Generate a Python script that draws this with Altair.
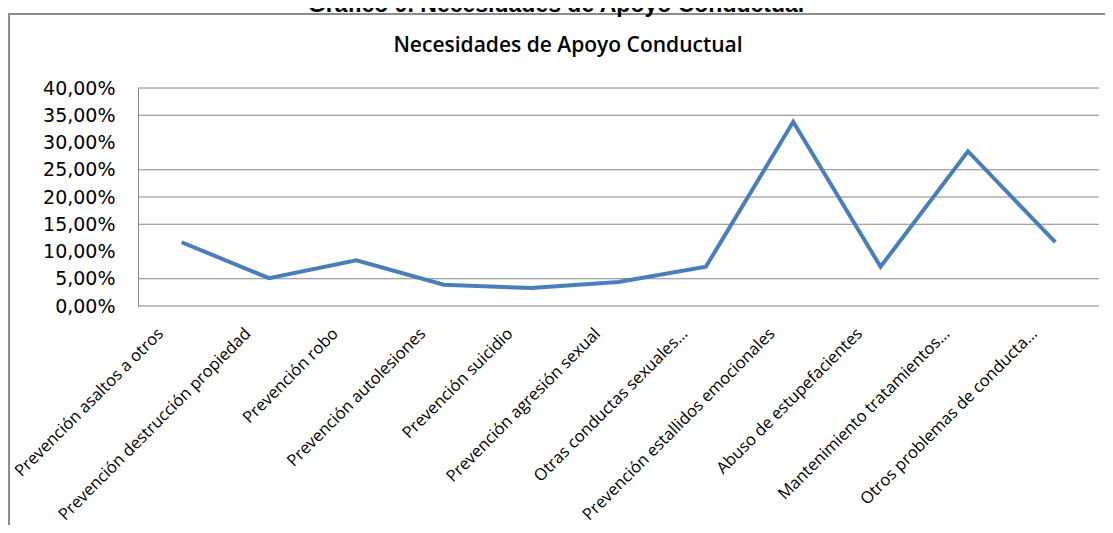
import altair as alt
import pandas as pd

# ---- data ----
categories = [
    "Prevención  asaltos a otros",
    "Prevención destrucción propiedad",
    "Prevención robo",
    "Prevención autolesiones",
    "Prevención suicidio",
    "Prevención  agresión sexual",
    "Otras conductas sexuales…",
    "Prevención estallidos emocionales",
    "Abuso de estupefacientes",
    "Mantenimiento  tratamientos…",
    "Otros problemas de conducta…",
]
values = [0.117, 0.051, 0.084, 0.039, 0.033, 0.044, 0.072, 0.338, 0.072, 0.284, 0.117]
y_ticks = [0.0, 0.05, 0.10, 0.15, 0.20, 0.25, 0.30, 0.35, 0.40]
grid_values = [0.0, 0.05, 0.15, 0.20, 0.25, 0.35, 0.40]
chart_title = "Necesidades de Apoyo Conductual"
caption_title = "Gráfico 9. Necesidades de Apoyo Conductual"

W, H = 961, 218
GRID = "#868686"
LINE = "#4a7ebb"

df = pd.DataFrame({"cat": categories, "val": values})
grid_df = pd.DataFrame({"g": grid_values})

yscale = alt.Scale(domain=[0, 0.4], nice=False, zero=True)


def yaxis():
    return alt.Axis(
        values=y_ticks,
        labelExpr="replace(format(datum.value, '.2%'), '.', ',')",
        labelFont="DejaVu Sans",
        labelFontSize=19,
        labelColor="#000000",
        labelPadding=23,
        ticks=False,
        grid=False,
        domain=True,
        domainColor=GRID,
        domainWidth=1,
        title=None,
    )


grid = alt.Chart(grid_df).mark_rule(color=GRID, strokeWidth=1).encode(
    y=alt.Y("g:Q", scale=yscale, axis=yaxis()),
    x=alt.value(0),
    x2=alt.value(W),
)

line = alt.Chart(df).mark_line(color=LINE, strokeWidth=4).encode(
    x=alt.X(
        "cat:N",
        sort=categories,
        scale=alt.Scale(type="point", padding=0.5),
        axis=alt.Axis(
            labelAngle=-45,
            labelAlign="right",
            labelBaseline="top",
            labelFont="Open Sans",
            labelFontSize=16.5,
            labelColor="#000000",
            labelPadding=19,
            labelOffset=-27,
            labelLimit=0,
            labelOverlap=False,
            ticks=False,
            domain=False,
            grid=False,
            title=None,
        ),
    ),
    y=alt.Y("val:Q", scale=yscale, axis=yaxis()),
)

inner_title = alt.Chart(pd.DataFrame({"t": [chart_title]})).mark_text(
    font="Open Sans", fontSize=21, fontWeight=600, color="#000000",
    align="center", baseline="middle",
).encode(text="t:N", x=alt.value(430), y=alt.value(-42))

outer_title = alt.Chart(pd.DataFrame({"t": [caption_title]})).mark_text(
    font="Liberation Sans", fontSize=23, fontWeight="bold", color="#000000",
    align="center", baseline="alphabetic",
).encode(text="t:N", x=alt.value(418), y=alt.value(-76))

frame_top = alt.Chart(pd.DataFrame({"a": [0]})).mark_rule(color="#8c8c8c", strokeWidth=2).encode(
    x=alt.value(-130), x2=alt.value(980), y=alt.value(-74)
)
frame_left = alt.Chart(pd.DataFrame({"a": [0]})).mark_rule(color="#8c8c8c", strokeWidth=2).encode(
    x=alt.value(-129), y=alt.value(-74), y2=alt.value(440)
)

chart = (
    alt.layer(frame_top, frame_left, outer_title, inner_title, grid, line)
    .properties(
        width=W,
        height=H,
        padding={"left": 130, "top": 80, "right": 6, "bottom": 219},
        autosize=alt.AutoSizeParams(type="none"),
        background="#ffffff",
    )
    .configure_view(stroke=None)
)

chart.save("out.html", embed_options={"renderer": "svg", "actions": False})
